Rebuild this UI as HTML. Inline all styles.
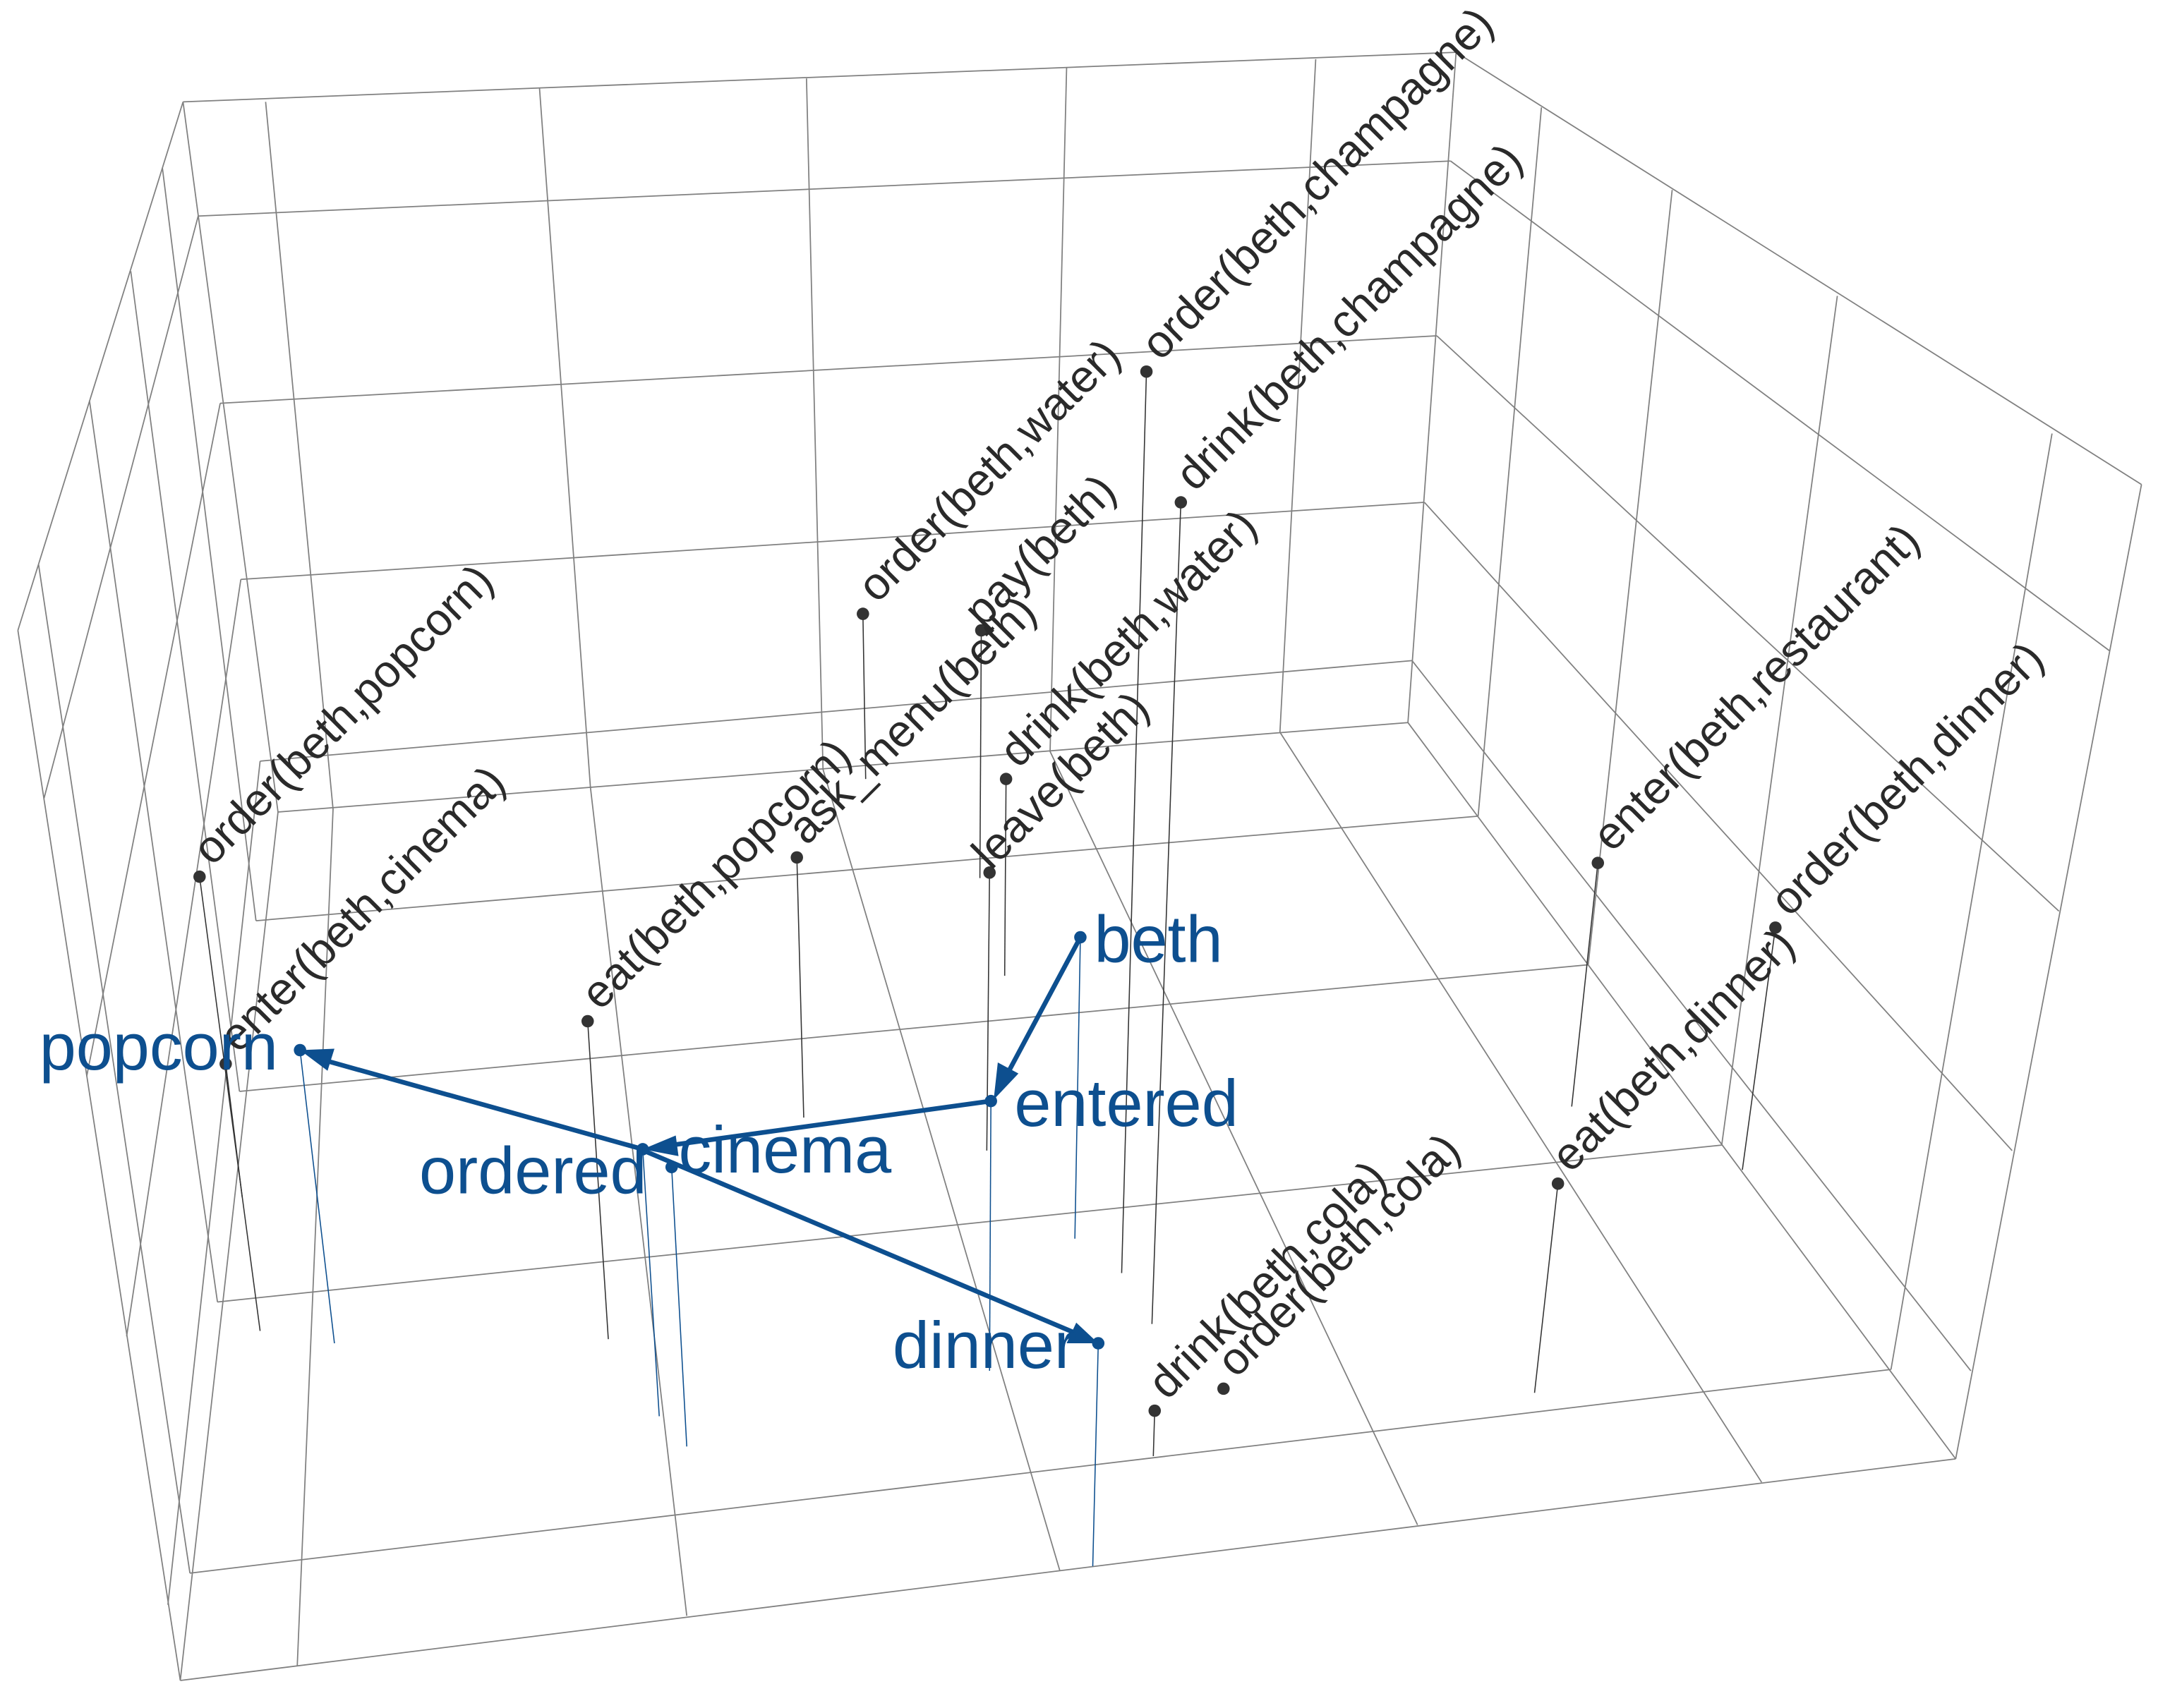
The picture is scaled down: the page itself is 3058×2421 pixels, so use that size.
<!DOCTYPE html>
<html><head><meta charset="utf-8"><style>
html,body{margin:0;padding:0;background:#fff;}
svg{display:block;}
.g{stroke:#808080;stroke-width:0.9;fill:none;}
.s{stroke:#333;stroke-width:0.8;}
.bs{stroke:#0d4f8f;stroke-width:0.8;}
.lb{font-family:"Liberation Sans",sans-serif;font-size:33px;fill:#2a2a2a;}
.bl{font-family:"Liberation Sans",sans-serif;font-size:48px;fill:#0d4f8f;}
.ar{stroke:#0d4f8f;stroke-width:3.4;fill:none;}
</style></head><body>
<svg width="3058" height="2421" viewBox="0 0 1568 1241" preserveAspectRatio="none" xmlns="http://www.w3.org/2000/svg">
<g class="g">
<line x1="133" y1="74" x2="1058" y2="38"/>
<line x1="144" y1="157" x2="1054" y2="117"/>
<line x1="160" y1="293" x2="1044" y2="244"/>
<line x1="175" y1="421" x2="1035" y2="365"/>
<line x1="189" y1="553" x2="1026" y2="480"/>
<line x1="202" y1="590" x2="1023" y2="525"/>
<line x1="133" y1="74" x2="202" y2="590"/>
<line x1="1058" y1="38" x2="1023" y2="525"/>
<polyline points="193,74 242,588 216,1210"/>
<polyline points="392,64 429,572 499,1174"/>
<polyline points="586,57 598,559 770,1141"/>
<polyline points="775,49 763,546 1030,1108"/>
<polyline points="956,43 930,532 1280,1077"/>
<line x1="202" y1="590" x2="131" y2="1221"/>
<line x1="131" y1="1221" x2="1421" y2="1060"/>
<line x1="1023" y1="525" x2="1421" y2="1060"/>
<line x1="186" y1="669" x2="1074" y2="593"/>
<line x1="174" y1="793" x2="1154" y2="701"/>
<line x1="158" y1="946" x2="1251" y2="832"/>
<line x1="138" y1="1143" x2="1374" y2="995"/>
<line x1="133" y1="74" x2="13" y2="458"/>
<line x1="13" y1="458" x2="131" y2="1221"/>
<line x1="118" y1="122" x2="186" y2="669"/>
<line x1="95" y1="197" x2="174" y2="793"/>
<line x1="65" y1="291" x2="158" y2="946"/>
<line x1="28" y1="410" x2="138" y2="1143"/>
<line x1="144" y1="157" x2="32" y2="580"/>
<line x1="160" y1="293" x2="63" y2="782"/>
<line x1="175" y1="421" x2="92" y2="971"/>
<line x1="189" y1="553" x2="122" y2="1166"/>
<line x1="1058" y1="38" x2="1556" y2="352"/>
<line x1="1556" y1="352" x2="1421" y2="1060"/>
<line x1="1054" y1="117" x2="1533" y2="473"/>
<line x1="1044" y1="244" x2="1496" y2="662"/>
<line x1="1035" y1="365" x2="1462" y2="836"/>
<line x1="1026" y1="480" x2="1432" y2="996"/>
<line x1="1120" y1="78" x2="1074" y2="593"/>
<line x1="1215" y1="138" x2="1154" y2="701"/>
<line x1="1335" y1="215" x2="1251" y2="832"/>
<line x1="1491" y1="315" x2="1374" y2="995"/>
</g>

<g class="s">
<line x1="833" y1="270" x2="815" y2="925"/>
<line x1="858" y1="365" x2="837" y2="962"/>
<line x1="627" y1="446" x2="629" y2="566"/>
<line x1="713" y1="458" x2="712" y2="638"/>
<line x1="719" y1="634" x2="717" y2="836"/>
<line x1="731" y1="566" x2="730" y2="709"/>
<line x1="579" y1="623" x2="584" y2="812"/>
<line x1="427" y1="742" x2="442" y2="973"/>
<line x1="145" y1="637" x2="189" y2="967"/>
<line x1="164" y1="773" x2="176" y2="870"/>
<line x1="1161" y1="627" x2="1142" y2="804"/>
<line x1="1290" y1="674" x2="1266" y2="850"/>
<line x1="1132" y1="860" x2="1115" y2="1012"/>
<line x1="839" y1="1025" x2="838" y2="1058"/>
</g>
<g fill="#333">
<circle cx="833" cy="270" r="4.5"/><circle cx="858" cy="365" r="4.5"/>
<circle cx="627" cy="446" r="4.5"/><circle cx="713" cy="458" r="4.5"/>
<circle cx="719" cy="634" r="4.5"/><circle cx="731" cy="566" r="4.5"/>
<circle cx="579" cy="623" r="4.5"/><circle cx="427" cy="742" r="4.5"/>
<circle cx="145" cy="637" r="4.5"/><circle cx="164" cy="773" r="4.5"/>
<circle cx="1161" cy="627" r="4.5"/><circle cx="1290" cy="674" r="4.5"/>
<circle cx="1132" cy="860" r="4.5"/><circle cx="839" cy="1025" r="4.5"/>
<circle cx="889" cy="1009" r="4.5"/>
</g>
<g class="lb">
<text transform="translate(843,263) rotate(-45)">order(beth,champagne)</text>
<text transform="translate(868,358) rotate(-45)">drink(beth,champagne)</text>
<text transform="translate(637,439) rotate(-45)">order(beth,water)</text>
<text transform="translate(714,457) rotate(-45)">pay(beth)</text>
<text transform="translate(720,633) rotate(-45)">leave(beth)</text>
<text transform="translate(740,559) rotate(-45)">drink(beth,water)</text>
<text transform="translate(586,615) rotate(-45)">ask_menu(beth)</text>
<text transform="translate(436,735) rotate(-45)">eat(beth,popcorn)</text>
<text transform="translate(154,630) rotate(-45)">order(beth,popcorn)</text>
<text transform="translate(173,766) rotate(-45)">enter(beth,cinema)</text>
<text transform="translate(1171,620) rotate(-45)">enter(beth,restaurant)</text>
<text transform="translate(1300,667) rotate(-45)">order(beth,dinner)</text>
<text transform="translate(1141,853) rotate(-45)">eat(beth,dinner)</text>
<text transform="translate(848,1018) rotate(-45)">drink(beth,cola)</text>
<text transform="translate(898,1002) rotate(-45)">order(beth,cola)</text>
</g>

<g class="bs">
<line x1="785" y1="681" x2="781" y2="900"/>
<line x1="720" y1="800" x2="719" y2="996"/>
<line x1="488" y1="848" x2="499" y2="1051"/>
<line x1="467" y1="835" x2="479" y2="1029"/>
<line x1="218" y1="763" x2="243" y2="976"/>
<line x1="798" y1="976" x2="794" y2="1138"/>
</g>
<g class="ar">
<line x1="785" y1="681" x2="731" y2="782"/>
<line x1="720" y1="800" x2="488" y2="832"/>
<line x1="467" y1="835" x2="238" y2="771"/>
<line x1="470" y1="837" x2="780" y2="968"/>
</g>
<g fill="#0d4f8f">
<polygon points="722,799 725,772 740,780"/>
<polygon points="467,835 491,825 493,840"/>
<polygon points="218,763 243,762 238,778"/>
<polygon points="798,976 775,976 782,961"/>
<circle cx="785" cy="681" r="4.5"/><circle cx="720" cy="800" r="4.5"/>
<circle cx="488" cy="848" r="4.5"/><circle cx="467" cy="835" r="4.5"/>
<circle cx="218" cy="763" r="4.5"/><circle cx="798" cy="976" r="4.5"/>
</g>
<g class="bl">
<text x="795" y="699">beth</text>
<text x="737" y="818">entered</text>
<text x="493" y="852">cinema</text>
<text x="470" y="867" text-anchor="end">ordered</text>
<text x="202" y="777" text-anchor="end">popcorn</text>
<text x="782" y="994" text-anchor="end">dinner</text>
</g>
</svg>
</body></html>
